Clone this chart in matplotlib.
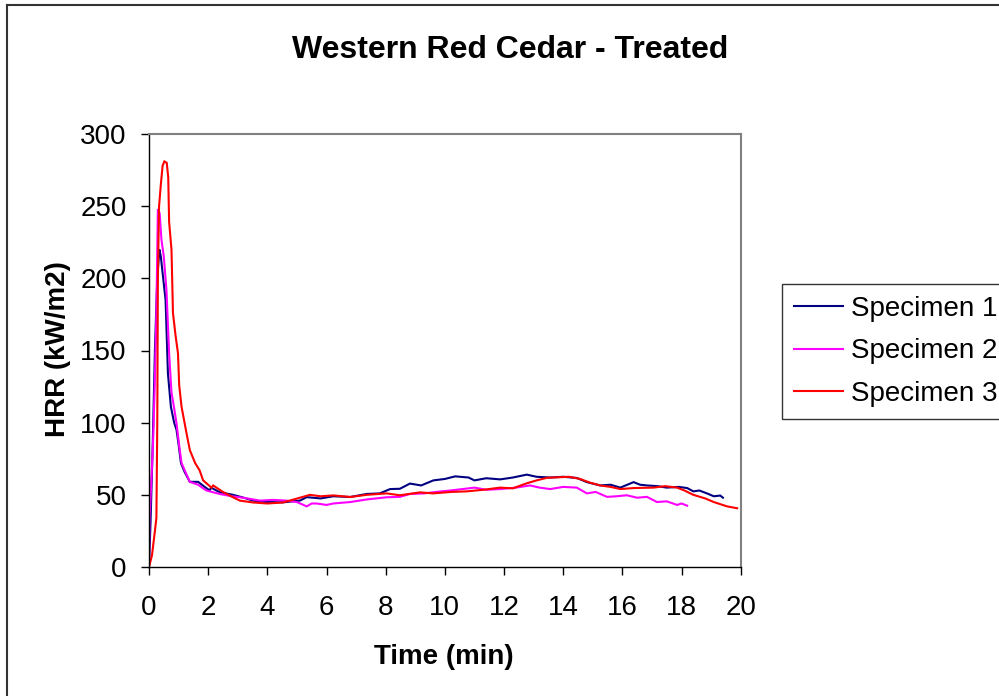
import matplotlib
matplotlib.use("Agg")
import matplotlib.pyplot as plt
from matplotlib.lines import Line2D

plt.rcParams['font.family'] = ['Liberation Sans', 'DejaVu Sans']

title = "Western Red Cedar - Treated"
xlabel = "Time (min)"
ylabel = "HRR (kW/m2)"
labels = ["Specimen 1", "Specimen 2", "Specimen 3"]
colors = ["#000080", "#FF00FF", "#FF0000"]

t1 = [0.0, 0.05, 0.12, 0.2, 0.28, 0.35, 0.4, 0.48, 0.56, 0.64, 0.74, 0.85, 0.93, 1.0, 1.08, 1.2, 1.38, 1.66,
      1.85, 2.05, 2.1, 2.39, 2.84, 3.2, 3.52, 4.0, 4.53, 5.1, 5.33, 5.8, 6.23, 6.8, 7.36, 7.8, 8.15, 8.48,
      8.82, 9.2, 9.61, 10.0, 10.35, 10.8, 11.0, 11.4, 11.87, 12.3, 12.77, 13.1, 13.56, 14.0, 14.46, 14.8,
      15.25, 15.6, 15.93, 16.38, 16.6, 16.83, 17.2, 17.5, 17.9, 18.19, 18.4, 18.6, 18.86, 19.09, 19.31, 19.4]
y1 = [0, 30, 80, 150, 200, 220, 215, 200, 185, 134, 111, 100, 95, 85, 72, 66, 59, 59,
      56, 53, 55, 51.8, 50, 48, 46, 45, 44.8, 46, 48.4, 47.5, 49, 48.5, 50.6, 51, 54, 54.2,
      57.8, 56.5, 60, 61, 62.8, 62, 60, 61.5, 60.7, 62, 64, 62.5, 62, 62.5, 61.7, 58.8,
      56.5, 57, 55, 58.8, 57, 56.5, 56, 55, 55.5, 54.7, 52.4, 53, 51, 49, 49.5, 48]

t2 = [0.0, 0.02, 0.08, 0.14, 0.2, 0.25, 0.3, 0.36, 0.42, 0.5, 0.59, 0.68, 0.76, 0.85, 0.93, 1.04, 1.1,
      1.25, 1.38, 1.66, 1.94, 2.39, 2.8, 3.18, 3.75, 4.2, 4.64, 5.0, 5.33, 5.5, 5.67, 6.0, 6.23, 6.8, 7.36,
      8.03, 8.48, 8.82, 9.3, 9.7, 10.18, 10.6, 11.0, 11.4, 11.87, 12.4, 12.88, 13.2, 13.56, 14.0, 14.46,
      14.8, 15.1, 15.48, 15.8, 16.15, 16.5, 16.83, 17.17, 17.5, 17.85, 18.0, 18.19]
y2 = [5, 34, 60, 88, 130, 176, 248, 245, 227, 215, 192, 148, 121, 110, 99.5, 81, 72,
      65, 59, 57, 53, 50.6, 49, 48, 46, 46.5, 46, 45, 42, 44, 44, 43, 44, 45, 46.8,
      48.3, 48.6, 50.6, 51, 52, 53, 54, 55, 53.5, 54, 55, 56.5, 55, 54, 55.5, 55,
      51, 52, 48.6, 49, 49.7, 48, 48.6, 45, 45.5, 43, 44, 42.5]

t3 = [0.0, 0.1, 0.2, 0.25, 0.28, 0.3, 0.34, 0.4, 0.46, 0.52, 0.6, 0.65, 0.68, 0.76, 0.81, 0.9, 0.98,
      1.02, 1.1, 1.27, 1.38, 1.56, 1.71, 1.83, 2.11, 2.17, 2.5, 2.84, 3.07, 3.52, 4.0, 4.53, 5.1, 5.44,
      5.8, 6.23, 6.8, 7.36, 8.03, 8.48, 9.16, 9.61, 10.2, 10.74, 11.3, 11.87, 12.3, 12.77, 13.1, 13.45,
      14.2, 14.57, 14.9, 15.25, 15.6, 15.93, 16.38, 17.05, 17.45, 17.85, 18.1, 18.4, 18.8, 19.09, 19.54,
      19.88]
y3 = [0, 8, 25, 34, 100, 200, 250, 265, 278, 281, 280, 270, 239, 220, 176, 160, 148,
      126, 111, 92.5, 81, 72, 67, 60, 55, 56.5, 52, 48.3, 46, 44.7, 44, 44.7, 48, 50,
      49, 49.6, 48.5, 50, 51, 49.7, 51.7, 51, 52, 52.4, 53.5, 55, 54.5, 58, 60, 61.8,
      62.5, 61, 58.5, 56.5, 55.5, 54, 54.7, 55, 56, 55, 53, 50, 47.5, 45, 42, 40.7]

series = [(t1, y1), (t2, y2), (t3, y3)]

fig = plt.figure(figsize=(9.99, 6.96), dpi=100)
W, H = 999, 696
ax = fig.add_axes([149 / W, 1 - 567 / H, (740.7 - 149) / W, (567 - 134) / H])

for (t, y), c, lab in zip(series, colors, labels):
    ax.plot(t, y, color=c, lw=1.5, label=lab, solid_joinstyle='miter')

ax.set_xlim(0, 20)
ax.set_ylim(0, 300)
ax.set_xticks(range(0, 21, 2))
ax.set_yticks(range(0, 301, 50))
ax.tick_params(axis='both', labelsize=20, direction='out', length=6, width=1, color='black')
ax.tick_params(axis='x', pad=14)
ax.tick_params(axis='y', pad=10)
for s in ['top', 'right']:
    ax.spines[s].set_color('#808080')
    ax.spines[s].set_linewidth(1.5)
for s in ['left', 'bottom']:
    ax.spines[s].set_color('black')
    ax.spines[s].set_linewidth(1.0)

fig.text(510 / W, 1 - 50 / H, title, ha='center', va='center', fontsize=23, fontweight='bold')
fig.text(444 / W, 1 - 657 / H, xlabel, ha='center', va='center', fontsize=20, fontweight='bold')
fig.text(58 / W, 1 - 349 / H, ylabel, ha='center', va='center', fontsize=20, fontweight='bold', rotation=90)

# outer chart border (left and top visible)
fig.add_artist(Line2D([7 / W, 7 / W], [0, 1 - 5 / H], transform=fig.transFigure, color='#333333', lw=1.5))
fig.add_artist(Line2D([7 / W, 1], [1 - 5 / H, 1 - 5 / H], transform=fig.transFigure, color='#333333', lw=1.5))

leg = fig.legend(loc='upper left', bbox_to_anchor=(782 / W, 1 - 284 / H), frameon=True, fontsize=20,
                 fancybox=False, edgecolor='black', borderpad=0.42, handlelength=1.76, handletextpad=0.32,
                 labelspacing=0.6, borderaxespad=0)
leg.get_frame().set_linewidth(1.0)
for line in leg.get_lines():
    line.set_linewidth(1.5)

fig.savefig("out.png", dpi=100, facecolor='white')
